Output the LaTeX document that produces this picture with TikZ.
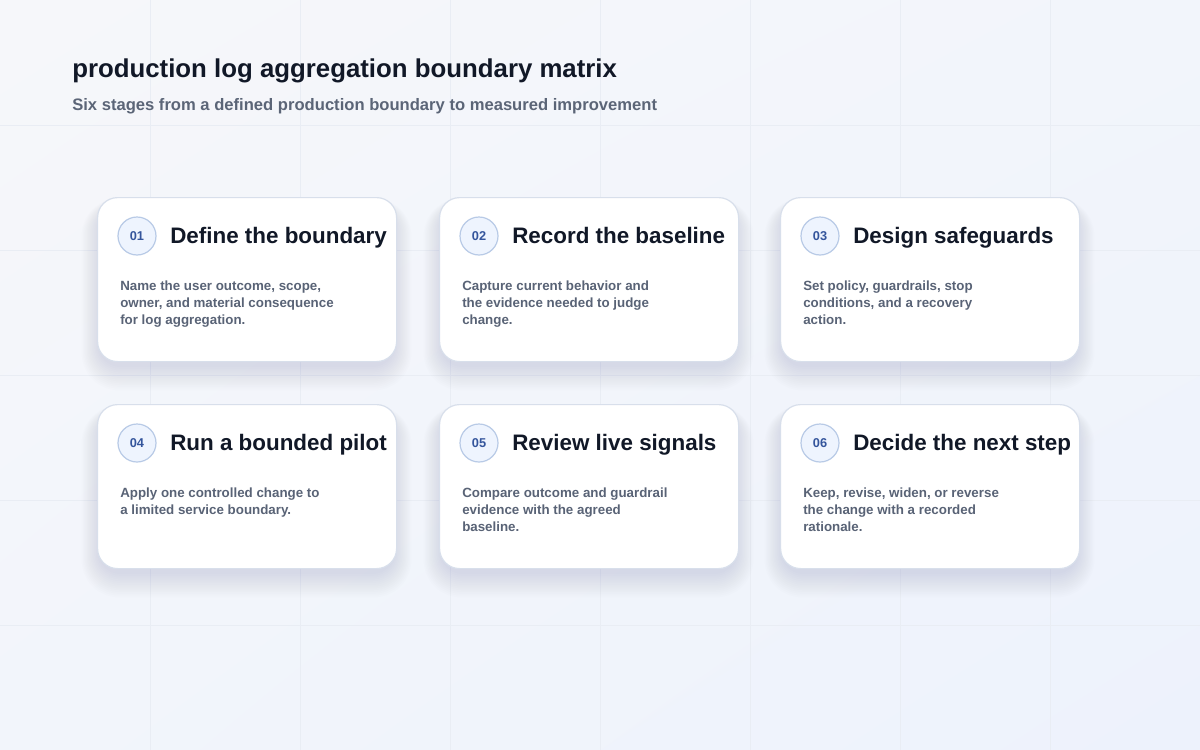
\documentclass[tikz,border=0pt]{standalone}
\usepackage{fontspec}
\setmainfont{Liberation Sans}
\usetikzlibrary{shadings}
\definecolor{bgA}{HTML}{F6F7FA}
\definecolor{bgB}{HTML}{F2F5FB}
\definecolor{bgC}{HTML}{EDF2FC}
\definecolor{gridc}{HTML}{E9EDF4}
\definecolor{titlec}{HTML}{111827}
\definecolor{subc}{HTML}{5B6577}
\definecolor{bodyc}{HTML}{596376}
\definecolor{cardline}{HTML}{D8DFEB}
\definecolor{numfill}{HTML}{EEF4FE}
\definecolor{numline}{HTML}{B8CAE6}
\definecolor{numtext}{HTML}{34559C}
\definecolor{shadowc}{HTML}{7C8AB0}
\tikzset{
  cardbox/.style={draw=cardline, line width=0.9pt, fill=white, rounded corners=15pt,
    minimum width=224.25pt, minimum height=123pt, inner sep=0pt, anchor=north west},
  shadowlayer/.style={fill=shadowc, fill opacity=0.017},
  numdisc/.style={circle, draw=numline, line width=0.9pt, fill=numfill,
    minimum size=28.5pt, inner sep=0pt, text=numtext,
    font=\fontsize{9.6pt}{11pt}\selectfont\bfseries},
  cardtitle/.style={anchor=base west, inner sep=0pt, text=titlec,
    font=\fontsize{16.8pt}{19pt}\selectfont\bfseries},
  cardbody/.style={anchor=north west, inner sep=0pt, text=bodyc, align=left,
    font=\fontsize{10pt}{12.75pt}\selectfont\bfseries},
  gridline/.style={draw=gridc, line width=0.6pt}
}
\begin{document}
\begin{tikzpicture}[x=0.75pt, y=-0.75pt]
\useasboundingbox (0,0) rectangle (1200,750);
\shade[upper left=bgA, upper right=bgB, lower left=bgB, lower right=bgC] (0,0) rectangle (1200,750);
\foreach \gx in {150,300,...,1050} { \draw[gridline] (\gx,0) -- (\gx,750); }
\foreach \gy in {125,250,...,625} { \draw[gridline] (0,\gy) -- (1200,\gy); }

\node[anchor=base west, inner sep=0pt, text=titlec, font=\fontsize{19.35pt}{23pt}\selectfont\bfseries]
  (title) at (72,77) {production log aggregation boundary matrix};
\node[anchor=base west, inner sep=0pt, text=subc, font=\fontsize{12.45pt}{14pt}\selectfont\bfseries]
  (subtitle) at (72,110) {Six stages from a defined production boundary to measured improvement};

% soft shadows
\foreach \cx/\cy in {97/197,439/197,780/197,97/404,439/404,780/404} {
  \foreach \k in {1,...,14} {
    \fill[shadowlayer, rounded corners={15pt+\k*0.9pt}]
      ({\cx-\k*1.3+3},{\cy+10-\k*0.6}) rectangle ({\cx+299+\k*1.3-3},{\cy+164+4+\k*1.8});
  }
}

% card geometry: left, top
\foreach \i/\cx/\cy/\num/\ttl/\body in {
  1/97/197/01/Define the boundary/{Name the user outcome, scope,\\owner, and material consequence\\for log aggregation.},
  2/439/197/02/Record the baseline/{Capture current behavior and\\the evidence needed to judge\\change.},
  3/780/197/03/Design safeguards/{Set policy, guardrails, stop\\conditions, and a recovery\\action.},
  4/97/404/04/Run a bounded pilot/{Apply one controlled change to\\a limited service boundary.},
  5/439/404/05/Review live signals/{Compare outcome and guardrail\\evidence with the agreed\\baseline.},
  6/780/404/06/Decide the next step/{Keep, revise, widen, or reverse\\the change with a recorded\\rationale.}} {
  \node[cardbox] (card\i) at (\cx,\cy) {};
  \node[numdisc] (num\i) at (\cx+40,\cy+39) {\num};
  \node[cardtitle] (ttl\i) at (\cx+73,\cy+46) {\ttl};
  \node[cardbody] (body\i) at (\cx+23,\cy+84) {\body};
}
\end{tikzpicture}
\end{document}
